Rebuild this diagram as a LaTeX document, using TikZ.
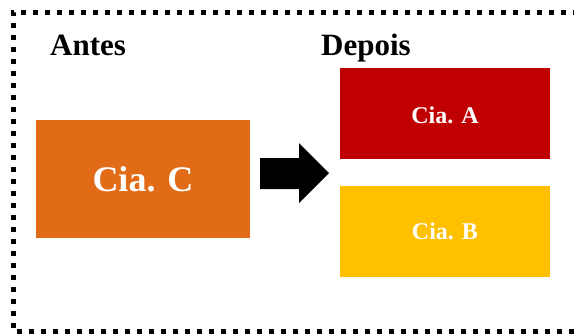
\documentclass[tikz,border=0pt]{standalone}
\usepackage{fontspec}
\setmainfont{Liberation Serif}
\definecolor{ciaC}{HTML}{E26B17}
\definecolor{ciaA}{HTML}{C00000}
\definecolor{ciaB}{HTML}{FFC000}
\begin{document}
\begin{tikzpicture}[x=1pt,y=-1pt,
  company/.style={anchor=north west, inner sep=0pt, outer sep=0pt, text=white, font=\bfseries},
  heading/.style={anchor=base west, inner sep=0pt, font=\bfseries\fontsize{31}{35}\selectfont}]
\useasboundingbox (0,0) rectangle (574,335);
\clip (0,0) rectangle (574,335);
% dotted frame, open past the right edge
\draw[line width=5, dash pattern=on 5 off 7] (590,12) -- (13,12) -- (13,331) -- (590,331);
% headings
\node[heading] (antes) at (50,55) {Antes};
\node[heading] (depois) at (321,55) {Depois};
% company boxes
\node[company, fill=ciaC, minimum width=214, minimum height=118] (c) at (36,120) {};
\node[text=white, font=\bfseries\fontsize{36}{40}\selectfont] at (c.center) {Cia. C};
\node[company, fill=ciaA, minimum width=210, minimum height=91] (a) at (340,68) {};
\node[text=white, font=\bfseries\fontsize{24}{28}\selectfont] at ([yshift=-2]a.center) {Cia. A};
\node[company, fill=ciaB, minimum width=210, minimum height=91] (b) at (340,186) {};
\node[text=white, font=\bfseries\fontsize{24}{28}\selectfont] at (b.center) {Cia. B};
% block arrow between before and after
\coordinate (tip) at (329,173);
\fill[black] (260,158) -- (299,158) -- (299,143) -- (tip) -- (299,203) -- (299,189) -- (260,189) -- cycle;
\end{tikzpicture}
\end{document}
